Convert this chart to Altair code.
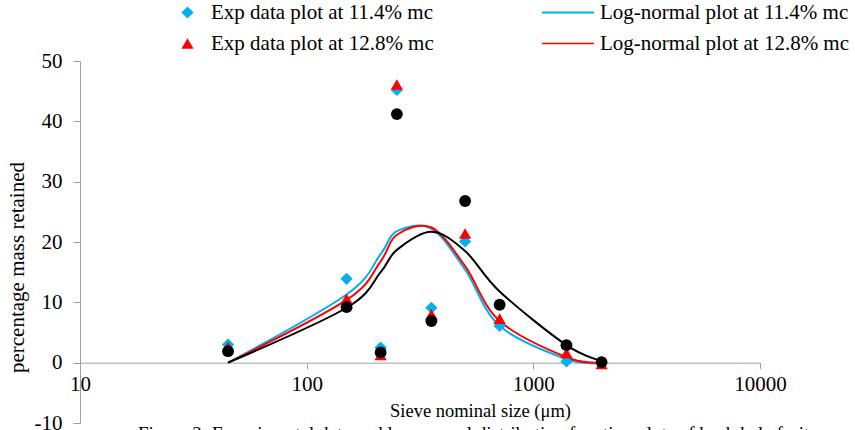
import altair as alt
import pandas as pd

sizes = [45, 150, 212, 250, 355, 500, 710, 1400, 2000]
exp_114 = [3.0, 13.9, 2.5, 45.2, 9.1, 20.1, 6.1, 0.2, 0.0]
exp_128 = [2.6, 10.6, 1.3, 46.1, 8.0, 21.4, 7.3, 1.6, -0.2]
exp_black = [1.9, 9.2, 1.7, 41.2, 6.9, 26.8, 9.6, 2.9, 0.1]
ln_114 = [0, 11.3, 18.0, 21.8, 22.2, 15.4, 6.1, 0.6, 0]
ln_128 = [0, 10.4, 16.8, 21.2, 22.4, 16.0, 6.9, 0.9, 0]
ln_black = [0, 9.1, 15.0, 18.7, 21.7, 18.5, 11.8, 2.9, 0.3]

pt_names = ["Exp data plot at 11.4% mc", "Exp data plot at 12.8% mc"]
ln_names = ["Log-normal plot at 11.4% mc", "Log-normal plot at 12.8% mc"]
blue = "#00B0F0"
red = "#FF0000"
caption = "Figure 2: Experimental data and log-normal distribution function plots of bush kale fruit"
FONT = "Liberation Serif"
GREY = "#A0A0A0"

pts = pd.DataFrame({
    "size": sizes * 2,
    "value": exp_114 + exp_128,
    "series": [pt_names[0]] * len(sizes) + [pt_names[1]] * len(sizes),
})
lns = pd.DataFrame({
    "size": sizes * 2,
    "value": ln_114 + ln_128,
    "series": [ln_names[0]] * len(sizes) + [ln_names[1]] * len(sizes),
})
blk_pts = pd.DataFrame({"size": sizes, "value": exp_black})
blk_ln = pd.DataFrame({"size": sizes, "value": ln_black})

xscale = alt.Scale(type="log", domain=[10, 10000])
yscale = alt.Scale(domain=[-10, 50])

xaxis = alt.Axis(
    values=[10, 100, 1000, 10000], format="d", grid=False, offset=-60.33,
    labelFlush=False, labelOverlap=False,
    domainColor=GREY, tickColor=GREY, tickSize=6, labelPadding=5,
    labelFont=FONT, labelFontSize=21, labelColor="black",
    title="Sieve nominal size (μm)", titleFont=FONT, titleFontSize=18.5,
    titleFontWeight="normal", titleColor="black", titleX=400, titleY=48,
    titleBaseline="middle", titleAlign="center",
)
yaxis = alt.Axis(
    values=[-10, 0, 10, 20, 30, 40, 50], grid=False, labelExpr="datum.value + ''",
    labelFlush=False, labelOverlap=False,
    domainColor=GREY, tickColor=GREY, tickSize=7, labelPadding=11,
    labelFont=FONT, labelFontSize=21, labelColor="black",
    title="percentage mass retained", titleFont=FONT, titleFontSize=21,
    titleFontWeight="normal", titleColor="black", titleAngle=270,
    titleX=-63, titleY=206, titleAlign="center", titleBaseline="middle",
)

x = alt.X("size:Q", scale=xscale, axis=xaxis)
y = alt.Y("value:Q", scale=yscale, axis=yaxis)

line_layer = alt.Chart(lns).mark_line(interpolate="cardinal", strokeWidth=2).encode(
    x=x, y=y,
    color=alt.Color("series:N", scale=alt.Scale(domain=ln_names, range=[blue, red]),
                    legend=alt.Legend(title=None, orient="none", legendX=477.5, legendY=-59,
                                      labelFont=FONT, labelFontSize=21, labelColor="black",
                                      labelLimit=0,
                                      symbolType="M-4,0L4,0", symbolSize=169, symbolStrokeWidth=2,
                                      labelOffset=21.5, rowPadding=9, padding=0)),
    strokeWidth=alt.StrokeWidth("series:N", scale=alt.Scale(domain=ln_names, range=[2.2, 1.5]), legend=None),
)
black_line = alt.Chart(blk_ln).mark_line(interpolate="cardinal", strokeWidth=2, color="black").encode(
    x=x, y=y
)
pt_layer = alt.Chart(pts).mark_point(filled=True, opacity=1, size=150).encode(
    x=x, y=y,
    color=alt.Color("series:N", scale=alt.Scale(domain=pt_names, range=[blue, red]),
                    legend=alt.Legend(title=None, orient="none", legendX=97, legendY=-59,
                                      labelFont=FONT, labelFontSize=21, labelColor="black",
                                      labelLimit=0,
                                      symbolSize=150, symbolOpacity=1,
                                      labelOffset=13, rowPadding=9, padding=0)),
    shape=alt.Shape("series:N", scale=alt.Scale(domain=pt_names, range=["diamond", "triangle-up"]),
                    legend=None),
)
black_pts = alt.Chart(blk_pts).mark_point(filled=True, opacity=1, size=140, shape="circle", color="black").encode(
    x=x, y=y
)
cap = alt.Chart(pd.DataFrame({"t": [caption]})).mark_text(
    align="left", baseline="top", font=FONT, fontSize=19, color="black"
).encode(x=alt.value(58), y=alt.value(364), text="t:N")

chart = alt.layer(line_layer, black_line, pt_layer, black_pts, cap).resolve_scale(
    color="independent", shape="independent", strokeWidth="independent"
).properties(
    width=680, height=362,
    autosize=alt.AutoSizeParams(type="none"),
    padding={"left": 80, "top": 61, "right": 95, "bottom": 7},
    background="white",
).configure_view(stroke=None)

chart.save("out.html", embed_options={"renderer": "svg", "actions": False})
